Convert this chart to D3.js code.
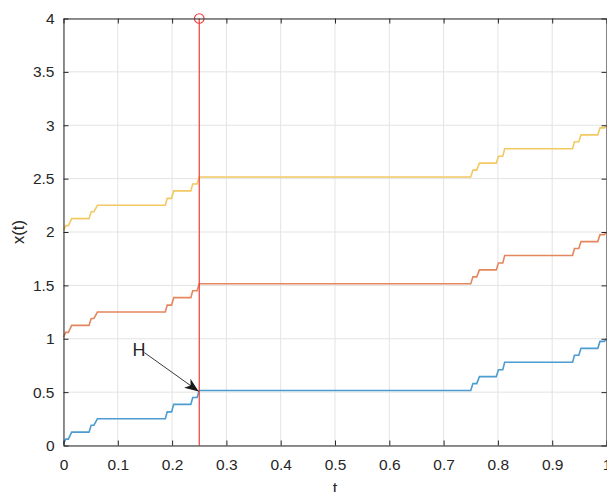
<!DOCTYPE html>
<html>
<head>
<meta charset="utf-8">
<script src="https://cdn.jsdelivr.net/npm/d3@7"></script>
<style>
    body { margin: 0; background: #fff; }
    text { font-family: "Liberation Sans", Arial, sans-serif; fill: #262626; }
</style>
</head>
<body>
<div id="chart"></div>
<script>
// Staircase samples
const tValues = [0, 0.004, 0.009, 0.015, 0.047, 0.051, 0.056, 0.0625, 0.1875, 0.191, 0.199, 0.203,
    0.2345, 0.238, 0.246, 0.25, 0.75, 0.754, 0.761, 0.766, 0.797, 0.801, 0.809, 0.8125,
    0.9375, 0.941, 0.949, 0.953, 0.984, 0.988, 0.996, 1.0];
const blueValues = [0.016, 0.06, 0.06, 0.125, 0.125, 0.19, 0.19, 0.25, 0.25, 0.315, 0.315, 0.385,
    0.385, 0.45, 0.45, 0.515, 0.515, 0.58, 0.58, 0.645, 0.645, 0.71, 0.71, 0.78,
    0.78, 0.845, 0.845, 0.91, 0.91, 0.975, 0.975, 1.0];
const orangeValues = [1.016, 1.06, 1.06, 1.125, 1.125, 1.19, 1.19, 1.25, 1.25, 1.315, 1.315, 1.385,
    1.385, 1.45, 1.45, 1.515, 1.515, 1.58, 1.58, 1.645, 1.645, 1.71, 1.71, 1.78,
    1.78, 1.845, 1.845, 1.91, 1.91, 1.975, 1.975, 2.0];
const yellowValues = [2.016, 2.06, 2.06, 2.125, 2.125, 2.19, 2.19, 2.25, 2.25, 2.315, 2.315, 2.385,
    2.385, 2.45, 2.45, 2.515, 2.515, 2.58, 2.58, 2.645, 2.645, 2.71, 2.71, 2.78,
    2.78, 2.845, 2.845, 2.91, 2.91, 2.975, 2.975, 3.0];
const xTicks = [0, 0.1, 0.2, 0.3, 0.4, 0.5, 0.6, 0.7, 0.8, 0.9, 1];
const yTicks = [0, 0.5, 1, 1.5, 2, 2.5, 3, 3.5, 4];
const markerT = 0.25;

const series = [
    { values: blueValues, color: "#4d9cd1" },
    { values: orangeValues, color: "#e4875e" },
    { values: yellowValues, color: "#f2c963" }
];

// Chart dimensions
const margin = { top: 18.5, right: 0.5, bottom: 46.5, left: 63.5 },
    width = 607 - margin.left - margin.right,
    height = 492 - margin.top - margin.bottom;

const svg = d3.select("#chart")
    .append("svg")
    .attr("width", 607)
    .attr("height", 492)
    .append("g")
    .attr("transform", "translate(" + margin.left + "," + margin.top + ")");

// Scales
const x = d3.scaleLinear().domain([0, 1]).range([0, width]);
const y = d3.scaleLinear().domain([0, 4]).range([height, 0]);

// Grid
svg.append("g")
    .selectAll("line.gx")
    .data(xTicks)
    .enter()
    .append("line")
    .attr("x1", d => x(d)).attr("x2", d => x(d))
    .attr("y1", 0).attr("y2", height)
    .attr("stroke", "#e3e3e3");

svg.append("g")
    .selectAll("line.gy")
    .data(yTicks)
    .enter()
    .append("line")
    .attr("x1", 0).attr("x2", width)
    .attr("y1", d => y(d)).attr("y2", d => y(d))
    .attr("stroke", "#e3e3e3");

// Curves
const line = d3.line()
    .x((d, i) => x(tValues[i]))
    .y(d => y(d));

svg.selectAll(".curve")
    .data(series)
    .enter()
    .append("path")
    .attr("class", "curve")
    .attr("fill", "none")
    .attr("stroke", d => d.color)
    .attr("stroke-width", 1.6)
    .attr("d", d => line(d.values));

// Red marker line with circle at the top
svg.append("line")
    .attr("x1", x(markerT)).attr("x2", x(markerT))
    .attr("y1", y(0)).attr("y2", y(4))
    .attr("stroke", "#f03a3a")
    .attr("stroke-width", 1.2);

svg.append("circle")
    .attr("cx", x(markerT))
    .attr("cy", y(4))
    .attr("r", 4.8)
    .attr("fill", "none")
    .attr("stroke", "#f03a3a")
    .attr("stroke-width", 1.1);

// Axes (ticks point inward, box on)
const axisStyle = g => {
    g.select(".domain").attr("stroke", "#262626");
    g.selectAll(".tick line").attr("stroke", "#262626");
    g.selectAll("text").style("font-size", "15.5px").attr("fill", "#262626");
};

svg.append("g")
    .attr("transform", "translate(0," + height + ")")
    .call(d3.axisBottom(x).tickValues(xTicks).tickFormat(d3.format("")).tickSizeInner(-5).tickSizeOuter(0).tickPadding(13.5))
    .call(axisStyle);

svg.append("g")
    .call(d3.axisLeft(y).tickValues(yTicks).tickFormat(d3.format("")).tickSizeInner(-5).tickSizeOuter(0).tickPadding(9))
    .call(axisStyle);

svg.append("g")
    .call(d3.axisTop(x).tickValues(xTicks).tickFormat("").tickSizeInner(-5).tickSizeOuter(0))
    .call(axisStyle);

svg.append("g")
    .attr("transform", "translate(" + width + ",0)")
    .call(d3.axisRight(y).tickValues(yTicks).tickFormat("").tickSizeInner(-5).tickSizeOuter(0))
    .call(axisStyle);

// Axis labels
svg.append("text")
    .attr("x", width / 2)
    .attr("y", height + 48)
    .attr("text-anchor", "middle")
    .style("font-size", "16.5px")
    .text("t");

svg.append("text")
    .attr("transform", "rotate(-90)")
    .attr("x", -height / 2)
    .attr("y", -40)
    .attr("text-anchor", "middle")
    .style("font-size", "16.5px")
    .text("x(t)");

// Annotation arrow "H"
const defs = svg.append("defs");
defs.append("marker")
    .attr("id", "arrowhead")
    .attr("viewBox", "0 0 14 11")
    .attr("refX", 14).attr("refY", 5.5)
    .attr("markerWidth", 14).attr("markerHeight", 11)
    .attr("markerUnits", "userSpaceOnUse")
    .attr("orient", "auto")
    .append("path")
    .attr("d", "M0,0 L14,5.5 L0,11 L4,5.5 Z")
    .attr("fill", "#1a1a1a");

svg.append("line")
    .attr("x1", x(0.149)).attr("y1", y(0.87))
    .attr("x2", x(0.249)).attr("y2", y(0.507))
    .attr("stroke", "#3a3a3a")
    .attr("stroke-width", 1)
    .attr("marker-end", "url(#arrowhead)");

svg.append("text")
    .attr("x", x(0.127))
    .attr("y", y(0.84))
    .style("font-size", "18px")
    .text("H");
</script>
</body>
</html>
